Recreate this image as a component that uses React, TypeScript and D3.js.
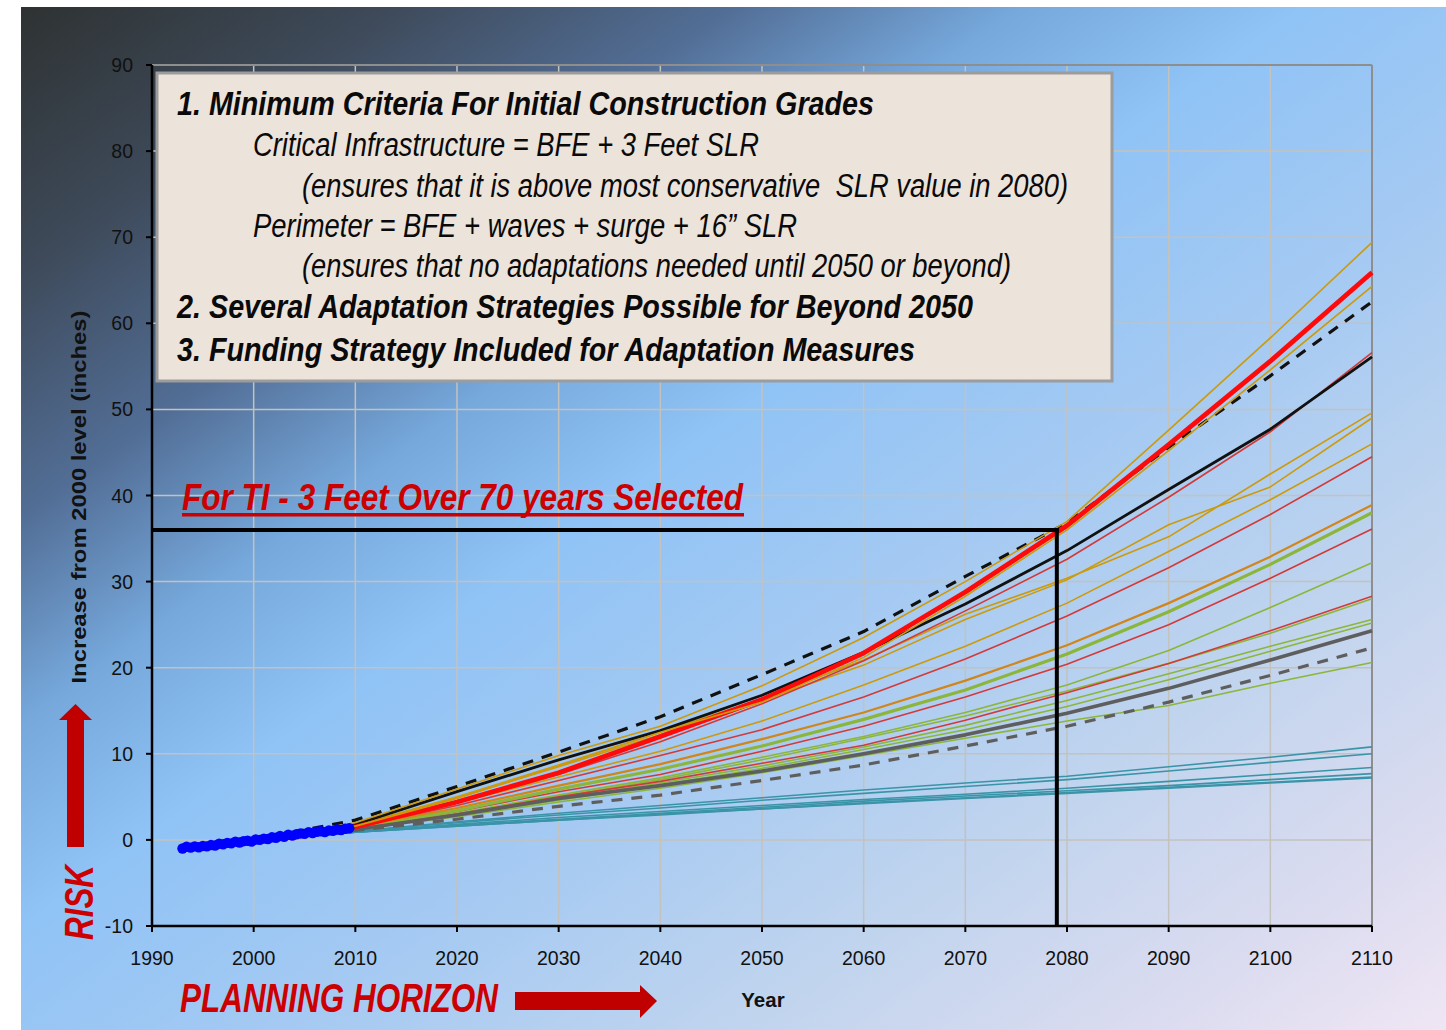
import React from 'react';
import * as d3 from 'd3';

// ---------- data ----------
const projYears = [2000, 2010, 2020, 2030, 2040, 2050, 2060, 2070, 2080, 2090, 2100, 2110];

const blackDashed = [0, 2.3, 6.2, 10.2, 14.3, 19.2, 24.2, 30.6, 36.8, 45.6, 53.9, 62.5];
const blackSolid = [0, 1.8, 5.6, 9.3, 12.7, 16.8, 21.8, 27.4, 33.6, 40.7, 47.7, 56.1];
const redMain = [0, 1.5, 4.4, 7.8, 12.0, 16.3, 21.7, 28.8, 36.5, 45.9, 55.6, 65.9];

const orange1 = [0, 2.0, 5.9, 9.8, 13.2, 17.9, 23.5, 30.0, 37.0, 47.6, 58.3, 69.4];
const orange2 = [0, 1.6, 4.8, 8.6, 12.5, 16.0, 21.2, 28.3, 36.0, 45.2, 54.6, 64.3];
const orange3 = [0, 1.7, 5.0, 8.7, 12.5, 16.4, 20.9, 26.2, 30.4, 35.2, 42.5, 49.6];
const orange4 = [0, 1.7, 4.9, 8.5, 12.2, 16.2, 20.3, 25.6, 30.2, 36.6, 41.0, 49.0];
const orange5 = [0, 1.6, 4.3, 7.3, 10.3, 13.8, 18.0, 22.5, 27.5, 33.5, 39.5, 46.0];
const orange6 = [0, 1.5, 3.7, 6.3, 8.8, 11.7, 14.8, 18.5, 22.6, 27.5, 32.9, 38.9];

const red1 = [0, 1.5, 4.0, 6.9, 9.8, 12.8, 16.6, 21.0, 26.0, 31.6, 37.8, 44.5];
const red2 = [0, 1.4, 3.3, 5.6, 7.6, 10.3, 13.2, 16.6, 20.4, 25.0, 30.4, 36.1];
const red3 = [0, 1.3, 3.0, 5.0, 6.8, 8.9, 11.0, 13.9, 17.1, 20.5, 24.3, 28.3];
const red4 = [0, 1.5, 4.3, 7.6, 11.4, 15.8, 20.8, 26.6, 32.6, 39.8, 47.4, 56.6];

const greenThick = [0, 1.4, 3.4, 5.9, 8.2, 10.9, 14.0, 17.4, 21.6, 26.5, 32.0, 38.0];
const green2 = [0, 1.3, 3.1, 5.2, 7.2, 9.6, 12.0, 14.8, 18.0, 22.0, 27.0, 32.2];
const green3 = [0, 1.3, 3.0, 5.0, 7.0, 9.3, 11.8, 14.4, 17.3, 20.5, 24.0, 28.0];
const green4 = [0, 1.3, 2.9, 4.8, 6.6, 8.6, 10.8, 13.3, 16.2, 19.3, 22.5, 25.6];
const green5 = [0, 1.2, 2.8, 4.6, 6.4, 8.3, 10.5, 12.8, 15.5, 18.6, 21.9, 25.2];
const green6 = [0, 1.2, 2.7, 4.4, 6.0, 7.8, 9.8, 11.8, 13.8, 15.6, 18.2, 20.6];

const grayThick = [0, 1.2, 2.9, 4.8, 6.3, 8.0, 10.0, 12.2, 14.7, 17.6, 20.9, 24.3];
const grayDashed = [0, 1.1, 2.4, 3.9, 5.2, 6.9, 8.7, 10.9, 13.2, 16.0, 19.1, 22.3];

const teal1 = [0, 1.0, 2.1, 3.1, 4.0, 4.9, 5.8, 6.6, 7.4, 8.5, 9.6, 10.8];
const teal2 = [0, 1.0, 2.0, 2.9, 3.7, 4.6, 5.4, 6.2, 7.0, 8.0, 9.0, 10.0];
const teal3 = [0, 0.9, 1.8, 2.6, 3.3, 4.0, 4.7, 5.3, 6.0, 6.8, 7.6, 8.4];
const teal4 = [0, 0.9, 1.7, 2.4, 3.1, 3.8, 4.5, 5.1, 5.7, 6.3, 7.0, 7.7];
const teal5 = [0, 0.9, 1.6, 2.3, 3.0, 3.6, 4.3, 4.9, 5.5, 6.1, 6.7, 7.3];
const teal6 = [0, 0.9, 1.6, 2.3, 2.9, 3.6, 4.2, 4.8, 5.4, 6.0, 6.6, 7.2];

const obsYears = [1993.0, 1993.4, 1993.8, 1994.2, 1994.6, 1995.0, 1995.4, 1995.8, 1996.2, 1996.6, 1997.0, 1997.4, 1997.8, 1998.2, 1998.6, 1999.0, 1999.4, 1999.8, 2000.2, 2000.6, 2001.0, 2001.4, 2001.8, 2002.2, 2002.6, 2003.0, 2003.4, 2003.8, 2004.2, 2004.6, 2005.0, 2005.4, 2005.8, 2006.2, 2006.6, 2007.0, 2007.4, 2007.8, 2008.2, 2008.6, 2009.0, 2009.4];
const obsValues = [-1.0, -0.8, -0.9, -0.75, -0.85, -0.7, -0.75, -0.6, -0.65, -0.45, -0.5, -0.35, -0.4, -0.2, -0.3, -0.15, -0.1, -0.2, 0.05, 0.0, 0.15, 0.1, 0.3, 0.25, 0.45, 0.35, 0.6, 0.5, 0.65, 0.75, 0.7, 0.9, 0.8, 0.95, 1.0, 0.9, 1.1, 1.05, 1.2, 1.15, 1.3, 1.35];

const selectedYear = 2079;
const selectedValue = 36;

const xTickValues = [1990, 2000, 2010, 2020, 2030, 2040, 2050, 2060, 2070, 2080, 2090, 2100, 2110];
const yTickValues = [-10, 0, 10, 20, 30, 40, 50, 60, 70, 80, 90];

const boxLines = [
  '1. Minimum Criteria For Initial Construction Grades',
  'Critical Infrastructure = BFE + 3 Feet SLR',
  '(ensures that it is above most conservative  SLR value in 2080)',
  'Perimeter = BFE + waves + surge + 16\u201D SLR',
  '(ensures that no adaptations needed until 2050 or beyond)',
  '2. Several Adaptation Strategies Possible for Beyond 2050',
  '3. Funding Strategy Included for Adaptation Measures',
];

// ---------- styles ----------
const TEAL = '#3a94a8';
const GREEN = '#8cb63a';
const REDT = '#d23a3a';
const ORANGE = '#cc9a0a';
const ORANGE_D = '#d0861a';

const seriesList = [
  { v: teal6, c: TEAL, w: 1.6 },
  { v: teal5, c: TEAL, w: 1.6 },
  { v: teal4, c: TEAL, w: 1.6 },
  { v: teal3, c: TEAL, w: 1.6 },
  { v: teal2, c: TEAL, w: 1.6 },
  { v: teal1, c: TEAL, w: 1.6 },
  { v: green6, c: GREEN, w: 1.6 },
  { v: green5, c: GREEN, w: 1.6 },
  { v: green4, c: GREEN, w: 1.6 },
  { v: green3, c: GREEN, w: 1.6 },
  { v: green2, c: GREEN, w: 1.6 },
  { v: red3, c: REDT, w: 1.6 },
  { v: red2, c: REDT, w: 1.6 },
  { v: greenThick, c: GREEN, w: 3.2 },
  { v: orange6, c: ORANGE_D, w: 2.2 },
  { v: red1, c: REDT, w: 1.6 },
  { v: orange5, c: ORANGE, w: 1.6 },
  { v: orange4, c: ORANGE, w: 1.6 },
  { v: orange3, c: ORANGE, w: 1.6 },
  { v: red4, c: REDT, w: 1.6 },
  { v: grayDashed, c: '#5e5e5e', w: 3.2, d: '11 9' },
  { v: grayThick, c: '#5e5e5e', w: 3.6 },
  { v: blackSolid, c: '#111', w: 2.8 },
  { v: blackDashed, c: '#111', w: 3.2, d: '11 9' },
  { v: redMain, c: '#ff0a0a', w: 4.8 },
  { v: orange2, c: ORANGE, w: 1.6 },
  { v: orange1, c: ORANGE, w: 1.6 },
];

const NARROW = "'Liberation Sans Narrow', 'Arial Narrow', 'Liberation Sans', Arial, sans-serif";
const ARIAL = "'Liberation Sans', Arial, sans-serif";

export default function App() {
  const W = 1446, H = 1030;
  const L = 152, R = 1372, T = 65, B = 926;
  const x = d3.scaleLinear().domain([1990, 2110]).range([L, R]);
  const y = d3.scaleLinear().domain([-10, 90]).range([B, T]);
  const line = d3.line<number>().x((_, i) => x(projYears[i])).y((d) => y(d)).curve(d3.curveLinear);

  const boxSpecs = [
    { x: 177, yb: 115, len: 697, bold: true },
    { x: 253, yb: 156, len: 506, bold: false },
    { x: 302, yb: 197, len: 766, bold: false },
    { x: 253, yb: 237, len: 544, bold: false },
    { x: 302, yb: 277, len: 709, bold: false },
    { x: 177, yb: 318, len: 796, bold: true },
    { x: 177, yb: 361, len: 738, bold: true },
  ];

  return (
    <svg width={W} height={H} style={{ position: 'absolute', left: 0, top: 0, display: 'block' }}>
      <defs>
        <linearGradient id="bg" x1="0" y1="0" x2="1" y2="1">
          <stop offset="0" stopColor="#2e3232" />
          <stop offset="0.13" stopColor="#3e4a5a" />
          <stop offset="0.25" stopColor="#526e96" />
          <stop offset="0.35" stopColor="#76a8dc" />
          <stop offset="0.45" stopColor="#90c3f6" />
          <stop offset="0.6" stopColor="#a6caf2" />
          <stop offset="0.75" stopColor="#c0d4ee" />
          <stop offset="0.9" stopColor="#dcdcf0" />
          <stop offset="1" stopColor="#efe6f4" />
        </linearGradient>
      </defs>
      <rect x={0} y={0} width={W} height={H} fill="#ffffff" />
      <rect x={21} y={7} width={W - 21} height={H - 7} fill="url(#bg)" />

      {/* gridlines */}
      {xTickValues.slice(1, -1).map((t) => (
        <line key={'gx' + t} x1={x(t)} x2={x(t)} y1={T} y2={B} stroke="#c4c2bc" strokeWidth={1.5} />
      ))}
      {yTickValues.slice(1, -1).map((t) => (
        <line key={'gy' + t} x1={L} x2={R} y1={y(t)} y2={y(t)} stroke="#c4c2bc" strokeWidth={1.5} />
      ))}
      {/* top & right border */}
      <line x1={L} x2={R} y1={T} y2={T} stroke="#8e8e8e" strokeWidth={2} />
      <line x1={R} x2={R} y1={T} y2={B} stroke="#8e8e8e" strokeWidth={2} />

      {/* projections */}
      {seriesList.map((s, i) => (
        <path key={'s' + i} d={line(s.v) || ''} fill="none" stroke={s.c} strokeWidth={s.w}
          strokeDasharray={(s as any).d} strokeLinejoin="round" />
      ))}

      {/* observed */}
      {obsYears.map((yr, i) => (
        <circle key={'o' + i} cx={x(yr)} cy={y(obsValues[i])} r={5.2} fill="#0000ff" />
      ))}

      {/* selection lines */}
      <line x1={L} x2={x(selectedYear) + 2} y1={y(selectedValue)} y2={y(selectedValue)} stroke="#000" strokeWidth={4} />
      <line x1={x(selectedYear)} x2={x(selectedYear)} y1={y(selectedValue) - 2} y2={B} stroke="#000" strokeWidth={4} />

      {/* axes */}
      <line x1={L} x2={L} y1={T} y2={B + 1} stroke="#000" strokeWidth={2.5} />
      <line x1={L - 1} x2={R} y1={B} y2={B} stroke="#000" strokeWidth={2.5} />
      {yTickValues.map((t) => (
        <g key={'yt' + t}>
          <line x1={L - 6} x2={L} y1={y(t)} y2={y(t)} stroke="#000" strokeWidth={2} />
          <text x={133} y={y(t) + 7} textAnchor="end" fontFamily={ARIAL} fontSize={19.5} fill="#111">{t}</text>
        </g>
      ))}
      {xTickValues.map((t) => (
        <g key={'xt' + t}>
          <line x1={x(t)} x2={x(t)} y1={B} y2={B + 6} stroke="#000" strokeWidth={2} />
          <text x={x(t)} y={965} textAnchor="middle" fontFamily={ARIAL} fontSize={19.5} fill="#111">{t}</text>
        </g>
      ))}

      {/* text box */}
      <rect x={157} y={73} width={955} height={308} fill="#ece3da" stroke="#9c9c9c" strokeWidth={3} />
      {boxLines.map((txt, i) => (
        <text key={'b' + i} x={boxSpecs[i].x} y={boxSpecs[i].yb} fontFamily={NARROW} fontSize={33}
          fontStyle="italic" fontWeight={boxSpecs[i].bold ? 'bold' : 'normal'} fill="#0a0a0a"
          textLength={boxSpecs[i].len} lengthAdjust="spacingAndGlyphs" style={{ whiteSpace: 'pre' }}>{txt}</text>
      ))}

      {/* selection label */}
      <text x={182} y={510} fontFamily={NARROW} fontSize={37} fontStyle="italic" fontWeight="bold" fill="#cc0000"
        textLength={561} lengthAdjust="spacingAndGlyphs">For TI - 3 Feet Over 70 years Selected</text>
      <rect x={182} y={513} width={562} height={3.5} fill="#cc0000" />

      {/* y axis title */}
      <text transform="translate(86,497) rotate(-90)" textAnchor="middle" fontFamily={ARIAL} fontSize={20.5}
        fontWeight="bold" fill="#111" textLength={373} lengthAdjust="spacingAndGlyphs">Increase from 2000 level (inches)</text>

      {/* RISK arrow */}
      <rect x={67} y={719} width={17} height={128} fill="#c00000" />
      <polygon points="59,720 75.5,704 92,720" fill="#c00000" />
      <text transform="translate(93,940) rotate(-90)" fontFamily={NARROW} fontSize={40} fontStyle="italic"
        fontWeight="bold" fill="#cc0000" textLength={75} lengthAdjust="spacingAndGlyphs">RISK</text>

      {/* planning horizon */}
      <text x={180} y={1012} fontFamily={NARROW} fontSize={40} fontStyle="italic" fontWeight="bold" fill="#cc0000"
        textLength={318} lengthAdjust="spacingAndGlyphs">PLANNING HORIZON</text>
      <rect x={515} y={992} width={126} height={18} fill="#c00000" />
      <polygon points="640,985 657,1001 640,1018" fill="#c00000" />

      <text x={763} y={1007} textAnchor="middle" fontFamily={ARIAL} fontSize={20.5} fontWeight="bold" fill="#111">Year</text>
    </svg>
  );
}
